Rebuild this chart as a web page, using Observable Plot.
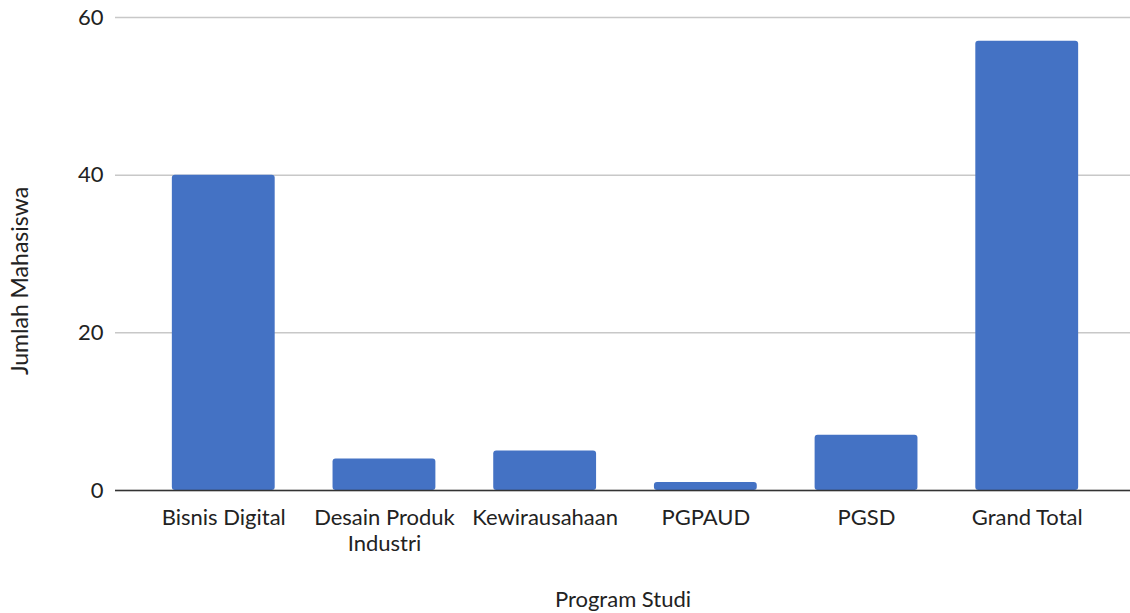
<!DOCTYPE html>
<html>
<head>
<meta charset="utf-8">
<script src="https://cdn.jsdelivr.net/npm/d3@7"></script>
<script src="https://cdn.jsdelivr.net/npm/@observablehq/plot@0.6"></script>
<style>
  html, body { margin: 0; padding: 0; background: #fff; }
  #chart svg { display: block; }
</style>
</head>
<body>
<div id="chart"></div>
<script>
const categories = ["Bisnis Digital", "Desain Produk Industri", "Kewirausahaan", "PGPAUD", "PGSD", "Grand Total"];
const values = [40, 4, 5, 1, 7, 57];
const yTicks = [0, 20, 40, 60];
const xTitle = "Program Studi";
const yTitle = "Jumlah Mahasiswa";

const data = categories.map((c, i) => ({category: c, value: values[i]}));

const chart = Plot.plot({
  width: 1130,
  height: 613,
  marginLeft: 115,
  marginRight: 0,
  marginTop: 17,
  marginBottom: 123,
  style: {fontFamily: "Lato, 'Open Sans', sans-serif", fontSize: "22px", color: "#222", background: "#fff"},
  x: {domain: categories, range: [114, 1136], padding: 0.36, round: false, label: null},
  y: {domain: [0, 60], label: null},
  marks: [
    Plot.gridY(yTicks, {stroke: "#c8c8c8", strokeOpacity: 1, strokeWidth: 1.5}),
    Plot.barY(data, {x: "category", y: "value", fill: "#4472C4", rx: 3}),
    Plot.ruleY([0], {stroke: "#333", strokeWidth: 1.5}),
    Plot.axisY(yTicks, {tickSize: 0, tickPadding: 12, fontSize: 22, label: null}),
    Plot.text([yTitle], {frameAnchor: "left", textAnchor: "middle", rotate: -90, dx: -95, dy: 27, fontSize: 23, fill: "#222"}),
    Plot.axisX({tickSize: 0, tickPadding: 17, fontSize: 22, lineHeight: 1.15, tickFormat: d => d.replace("Produk ", "Produk\n"), label: xTitle, labelAnchor: "center", labelArrow: "none", labelOffset: 116})
  ]
});
document.getElementById("chart").appendChild(chart);
</script>
</body>
</html>
